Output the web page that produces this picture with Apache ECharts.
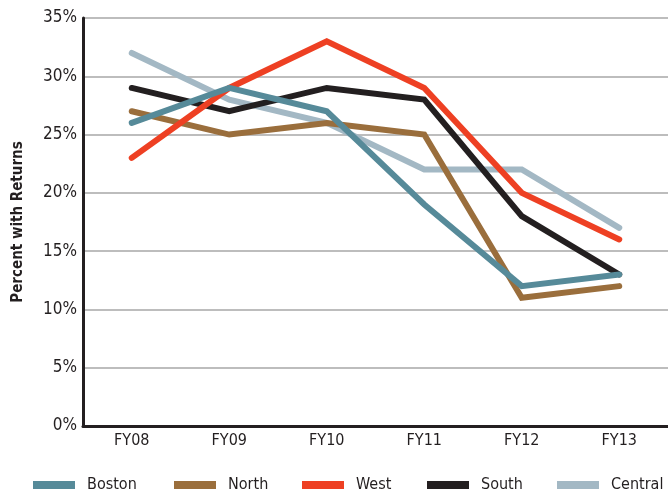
<!DOCTYPE html>
<html>
<head>
<meta charset="utf-8">
<script src="https://cdn.jsdelivr.net/npm/echarts@6/dist/echarts.min.js"></script>
<style>
html,body{margin:0;padding:0;background:#fff;}
#chart{width:668px;height:498px;}
</style>
</head>
<body>
<div id="chart"></div>
<script>
var categories = ['FY08', 'FY09', 'FY10', 'FY11', 'FY12', 'FY13'];
var boston  = [26, 29, 27, 19, 12, 13];
var north   = [27, 25, 26, 25, 11, 12];
var west    = [23, 29, 33, 29, 20, 16];
var south   = [29, 27, 29, 28, 18, 13];
var central = [32, 28, 26, 22, 22, 17];
var legendOrder = ['Boston', 'North', 'West', 'South', 'Central'];
var legendLeft = [33, 174, 302, 427, 557];

var FONT = '"DejaVu Sans", sans-serif';
var STRETCH = 'condensed';

function line(name, data, color, z) {
  return {
    name: name, type: 'line', data: data, symbol: 'none', z: z,
    lineStyle: { color: color, width: 6, cap: 'round', join: 'miter' },
    itemStyle: { color: color },
    animation: false
  };
}

var legends = legendOrder.map(function (n, i) {
  return {
    data: [n], top: 477, left: legendLeft[i],
    itemWidth: 42, itemHeight: 8, icon: 'rect', padding: 0,
    textStyle: { fontFamily: FONT, fontWeight: STRETCH, fontSize: 16, color: '#231f20', padding: [0, 0, 0, 7] }
  };
});

var chart = echarts.init(document.getElementById('chart'));
chart.setOption({
  backgroundColor: '#fff',
  animation: false,
  grid: { left: 83, right: 0, top: 18, bottom: 72, outerBoundsMode: 'none', containLabel: false },
  legend: legends,
  xAxis: {
    type: 'category', data: categories, boundaryGap: true,
    axisLine: { lineStyle: { color: '#231f20', width: 3 } },
    axisTick: { show: false },
    axisLabel: { fontFamily: FONT, fontWeight: STRETCH, fontSize: 16, color: '#231f20', margin: 7 }
  },
  yAxis: {
    type: 'value', min: 0, max: 35, interval: 5,
    name: 'Percent with Returns', nameLocation: 'middle', nameGap: 57,
    nameTextStyle: { fontFamily: FONT, fontWeight: 'bold ' + STRETCH, fontSize: 15, color: '#231f20' },
    axisLine: { show: true, lineStyle: { color: '#231f20', width: 3 } },
    axisTick: { show: false },
    axisLabel: { formatter: '{value}%', fontFamily: FONT, fontWeight: STRETCH, fontSize: 17, color: '#231f20', margin: 6 },
    splitLine: { lineStyle: { color: '#a7a7a7', width: 1.5 } }
  },
  series: [
    line('Central', central, '#a3b8c4', 1),
    line('South', south, '#231f20', 2),
    line('North', north, '#9a6e3c', 3),
    line('West', west, '#ee4023', 4),
    line('Boston', boston, '#568a99', 5)
  ]
});
</script>
</body>
</html>
